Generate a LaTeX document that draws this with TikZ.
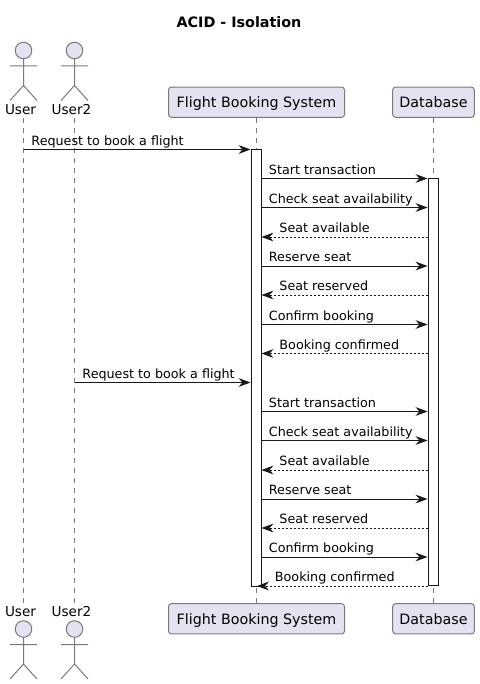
\documentclass[tikz,border=0pt]{standalone}
\usepackage{fontspec}
\setmainfont{DejaVu Sans}
\usepackage{xcolor}
\usetikzlibrary{positioning}
\usetikzlibrary{arrows.meta}
\definecolor{partfill}{HTML}{E2E2F0}
\definecolor{partline}{HTML}{181818}
\definecolor{thinline}{HTML}{7A7A7A}
\tikzset{part node/.style={rectangle,rounded corners=2.2pt,fill=partfill,draw=thinline,line width=0.75pt,minimum height=22.7pt,inner sep=0pt,font=\fontsize{10.7pt}{12pt}\selectfont,text height=7.9pt,text depth=0pt},}
\tikzset{actor label/.style={inner sep=0pt,anchor=base,font=\fontsize{10.2pt}{12pt}\selectfont},}
\tikzset{bar node/.style={rectangle,draw=partline,fill=white,line width=0.75pt,minimum width=7.5pt,inner sep=0pt},}
\tikzset{lifeline/.style={draw=thinline,line width=0.6pt,dash pattern=on 3.75pt off 3.75pt},}
\tikzset{msg/.style={draw=partline,line width=0.75pt,-{Stealth[length=9pt,width=6.6pt,inset=3pt]}},}
\tikzset{reply/.style={msg,dash pattern=on 1.5pt off 1.5pt},}
\tikzset{msg text/.style={inner sep=0pt,anchor=base west,text=black,font=\fontsize{9.55pt}{11pt}\selectfont,yshift=3.2pt},}
\tikzset{pics/stickman/.style={code={
    \draw[draw=thinline,line width=0.75pt,fill=partfill] (0,0) circle (6.2pt);
    \draw[draw=thinline,line width=0.75pt] (0,8.3) -- (0,35) (-13.5,15.5) -- (13.5,15.5) (-13.5,50) -- (0,35) -- (13.5,50);
}},}

\begin{document}
\begin{tikzpicture}[x=0.75pt,y=-0.75pt]
    \useasboundingbox (0,0) rectangle (479,684);
    \node[inner sep=0pt,anchor=base,font=\fontsize{10.75pt}{12pt}\selectfont\bfseries] (title) at (239,28) {ACID - Isolation};

    % participants, top and bottom
    \pic at (23.5,50.5) {stickman};
    \pic at (74.5,50.5) {stickman};
    \pic at (23.5,629) {stickman};
    \pic at (74.5,629) {stickman};
    \node[actor label] (user) at (20.5,114.7) {User};
    \node[actor label] (usertwo) at (71.5,114.7) {User2};
    \node[actor label] (userb) at (20.5,616.7) {User};
    \node[actor label] (usertwob) at (71.5,616.7) {User2};
    \node[part node,minimum width=132pt] (fbs) at (256.5,102.2) {Flight Booking System};
    \node[part node,minimum width=61.2pt] (db) at (433.5,102.2) {Database};
    \node[part node,minimum width=132pt] (fbsb) at (256.5,618.8) {Flight Booking System};
    \node[part node,minimum width=61.2pt] (dbb) at (433.5,618.8) {Database};

    % lifelines
    \coordinate (utop) at (23.5,118);
    \coordinate (ubot) at (23.5,603);
    \coordinate (vtop) at (74.5,118);
    \coordinate (vbot) at (74.5,603);
    \draw[lifeline] (utop) -- (ubot);
    \draw[lifeline] (vtop) -- (vbot);
    \draw[lifeline] (fbs) -- (fbsb);
    \draw[lifeline] (db) -- (dbb);

    % activations
    \node[bar node,minimum height=327.4pt] (fbsbar) at (256.5,367.75) {};
    \node[bar node,minimum height=305.6pt] (dbbar) at (433.5,382.25) {};

    % message ends
    \coordinate (a1) at (23.5,149.5);
    \coordinate (b1) at (250.5,149.5);
    \coordinate (a9) at (74.5,382.5);
    \coordinate (b9) at (250.5,382.5);
    \coordinate (s2) at (261.5,178.5);
    \coordinate (d2) at (427.5,178.5);
    \coordinate (s3) at (261.5,207.5);
    \coordinate (d3) at (427.5,207.5);
    \coordinate (s4) at (261.5,237);
    \coordinate (d4) at (428,237);
    \coordinate (s5) at (261.5,266);
    \coordinate (d5) at (427.5,266);
    \coordinate (s6) at (261.5,295);
    \coordinate (d6) at (428,295);
    \coordinate (s7) at (261.5,324.5);
    \coordinate (d7) at (427.5,324.5);
    \coordinate (s8) at (261.5,353.5);
    \coordinate (d8) at (428,353.5);
    \coordinate (s10) at (261.5,411.5);
    \coordinate (d10) at (427.5,411.5);
    \coordinate (s11) at (261.5,440.5);
    \coordinate (d11) at (427.5,440.5);
    \coordinate (s12) at (261.5,470);
    \coordinate (d12) at (428,470);
    \coordinate (s13) at (261.5,499);
    \coordinate (d13) at (427.5,499);
    \coordinate (s14) at (261.5,528);
    \coordinate (d14) at (428,528);
    \coordinate (s15) at (261.5,557);
    \coordinate (d15) at (427.5,557);
    \coordinate (s16) at (257,586);
    \coordinate (d16) at (428,586);

    % messages
    \draw[msg] (a1) -- node[at start,msg text,xshift=5.6pt] (t1) {Request to book a flight} (b1);
    \draw[msg] (s2) -- node[at start,msg text,xshift=5.2pt] (t2) {Start transaction} (d2);
    \draw[msg] (s3) -- node[at start,msg text,xshift=5.2pt] (t3) {Check seat availability} (d3);
    \draw[reply] (d4) -- node[at end,msg text,xshift=13.1pt] (t4) {Seat available} (s4);
    \draw[msg] (s5) -- node[at start,msg text,xshift=5.2pt] (t5) {Reserve seat} (d5);
    \draw[reply] (d6) -- node[at end,msg text,xshift=13.1pt] (t6) {Seat reserved} (s6);
    \draw[msg] (s7) -- node[at start,msg text,xshift=5.2pt] (t7) {Confirm booking} (d7);
    \draw[reply] (d8) -- node[at end,msg text,xshift=13.1pt] (t8) {Booking confirmed} (s8);
    \draw[msg] (a9) -- node[at start,msg text,xshift=5.6pt] (t9) {Request to book a flight} (b9);
    \draw[msg] (s10) -- node[at start,msg text,xshift=5.2pt] (t10) {Start transaction} (d10);
    \draw[msg] (s11) -- node[at start,msg text,xshift=5.2pt] (t11) {Check seat availability} (d11);
    \draw[reply] (d12) -- node[at end,msg text,xshift=13.1pt] (t12) {Seat available} (s12);
    \draw[msg] (s13) -- node[at start,msg text,xshift=5.2pt] (t13) {Reserve seat} (d13);
    \draw[reply] (d14) -- node[at end,msg text,xshift=13.1pt] (t14) {Seat reserved} (s14);
    \draw[msg] (s15) -- node[at start,msg text,xshift=5.2pt] (t15) {Confirm booking} (d15);
    \draw[reply] (d16) -- node[at end,msg text,xshift=13.1pt] (t16) {Booking confirmed} (s16);
\end{tikzpicture}
\end{document}
